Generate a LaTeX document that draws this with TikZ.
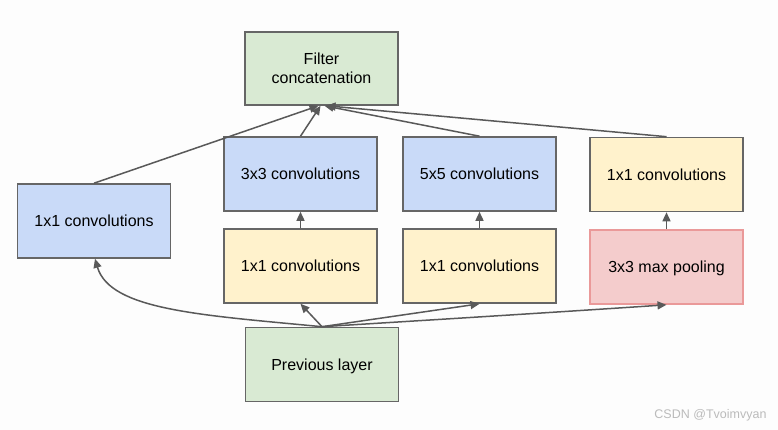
\documentclass[tikz,border=0pt]{standalone}
\usepackage{fontspec}
\setmainfont{Liberation Sans}
\usetikzlibrary{arrows.meta,calc}
\definecolor{gfill}{HTML}{D9EAD3}
\definecolor{bfill}{HTML}{C9DAF8}
\definecolor{yfill}{HTML}{FFF2CC}
\definecolor{pfill}{HTML}{F4CCCC}
\definecolor{pdraw}{HTML}{EA9999}
\definecolor{bdraw}{HTML}{666666}
\definecolor{adraw}{HTML}{595959}
\definecolor{wm}{HTML}{BBBBBB}
\definecolor{bg}{HTML}{FDFDFD}
\tikzset{
  basebox/.style={draw=bdraw, line width=1.6pt, minimum width=153pt, minimum height=74pt,
    inner sep=0pt, align=center, font=\fontsize{16}{19.5}\selectfont},
  box/.style={basebox, text height=11.5pt, text depth=0pt},
  greenbox/.style={box, fill=gfill},
  bluebox/.style={box, fill=bfill},
  yelbox/.style={box, fill=yfill},
  pinkbox/.style={box, fill=pfill, draw=pdraw},
  conn/.style={draw=adraw, line width=1.5pt, -{Triangle[length=9pt,width=8pt]}}
}
\begin{document}
\begin{tikzpicture}[x=1pt,y=-1pt]
\useasboundingbox[fill=bg] (0,0) rectangle (778,430);
\node[basebox, fill=gfill, minimum height=73pt] (filt) at (321.5,68.5) {Filter\\concatenation};
\node[bluebox] (c1) at (94,221) {1x1 convolutions};
\node[bluebox] (c3) at (300.5,174) {3x3 convolutions};
\node[bluebox] (c5) at (479.5,174) {5x5 convolutions};
\node[yelbox] (cp) at (666.5,174.5) {1x1 convolutions};
\node[yelbox] (r3) at (300.5,266) {1x1 convolutions};
\node[yelbox] (r5) at (479.5,266) {1x1 convolutions};
\node[pinkbox] (mp) at (666.5,267) {3x3 max pooling};
\node[greenbox] (prev) at (322,364.5) {Previous layer};
\node[text=wm, font=\fontsize{12.5}{15}\selectfont, anchor=east] (wmk) at (770,415) {CSDN @Tvoimvyan};
% bottom fan
\draw[conn] (prev.north) .. controls (200,315) and (110,310) .. ($(c1.south)+(1,0)$);
\draw[conn] (prev.north) -- (r3.south);
\draw[conn] (prev.north) -- (r5.south);
\draw[conn] (prev.north) .. controls (430,320) and (560,312) .. (mp.south);
% vertical
\draw[conn] (r3.north) -- (c3.south);
\draw[conn] (r5.north) -- (c5.south);
\draw[conn] (mp.north) -- (cp.south);
% top fan
\draw[conn] (c1.north) -- ($(filt.south)+(-3,0)$);
\draw[conn] (c3.north) -- ($(filt.south)+(-1,0)$);
\draw[conn] (c5.north) -- ($(filt.south)+(3,0)$);
\draw[conn] (cp.north) -- ($(filt.south)+(5,0)$);
\end{tikzpicture}
\end{document}
